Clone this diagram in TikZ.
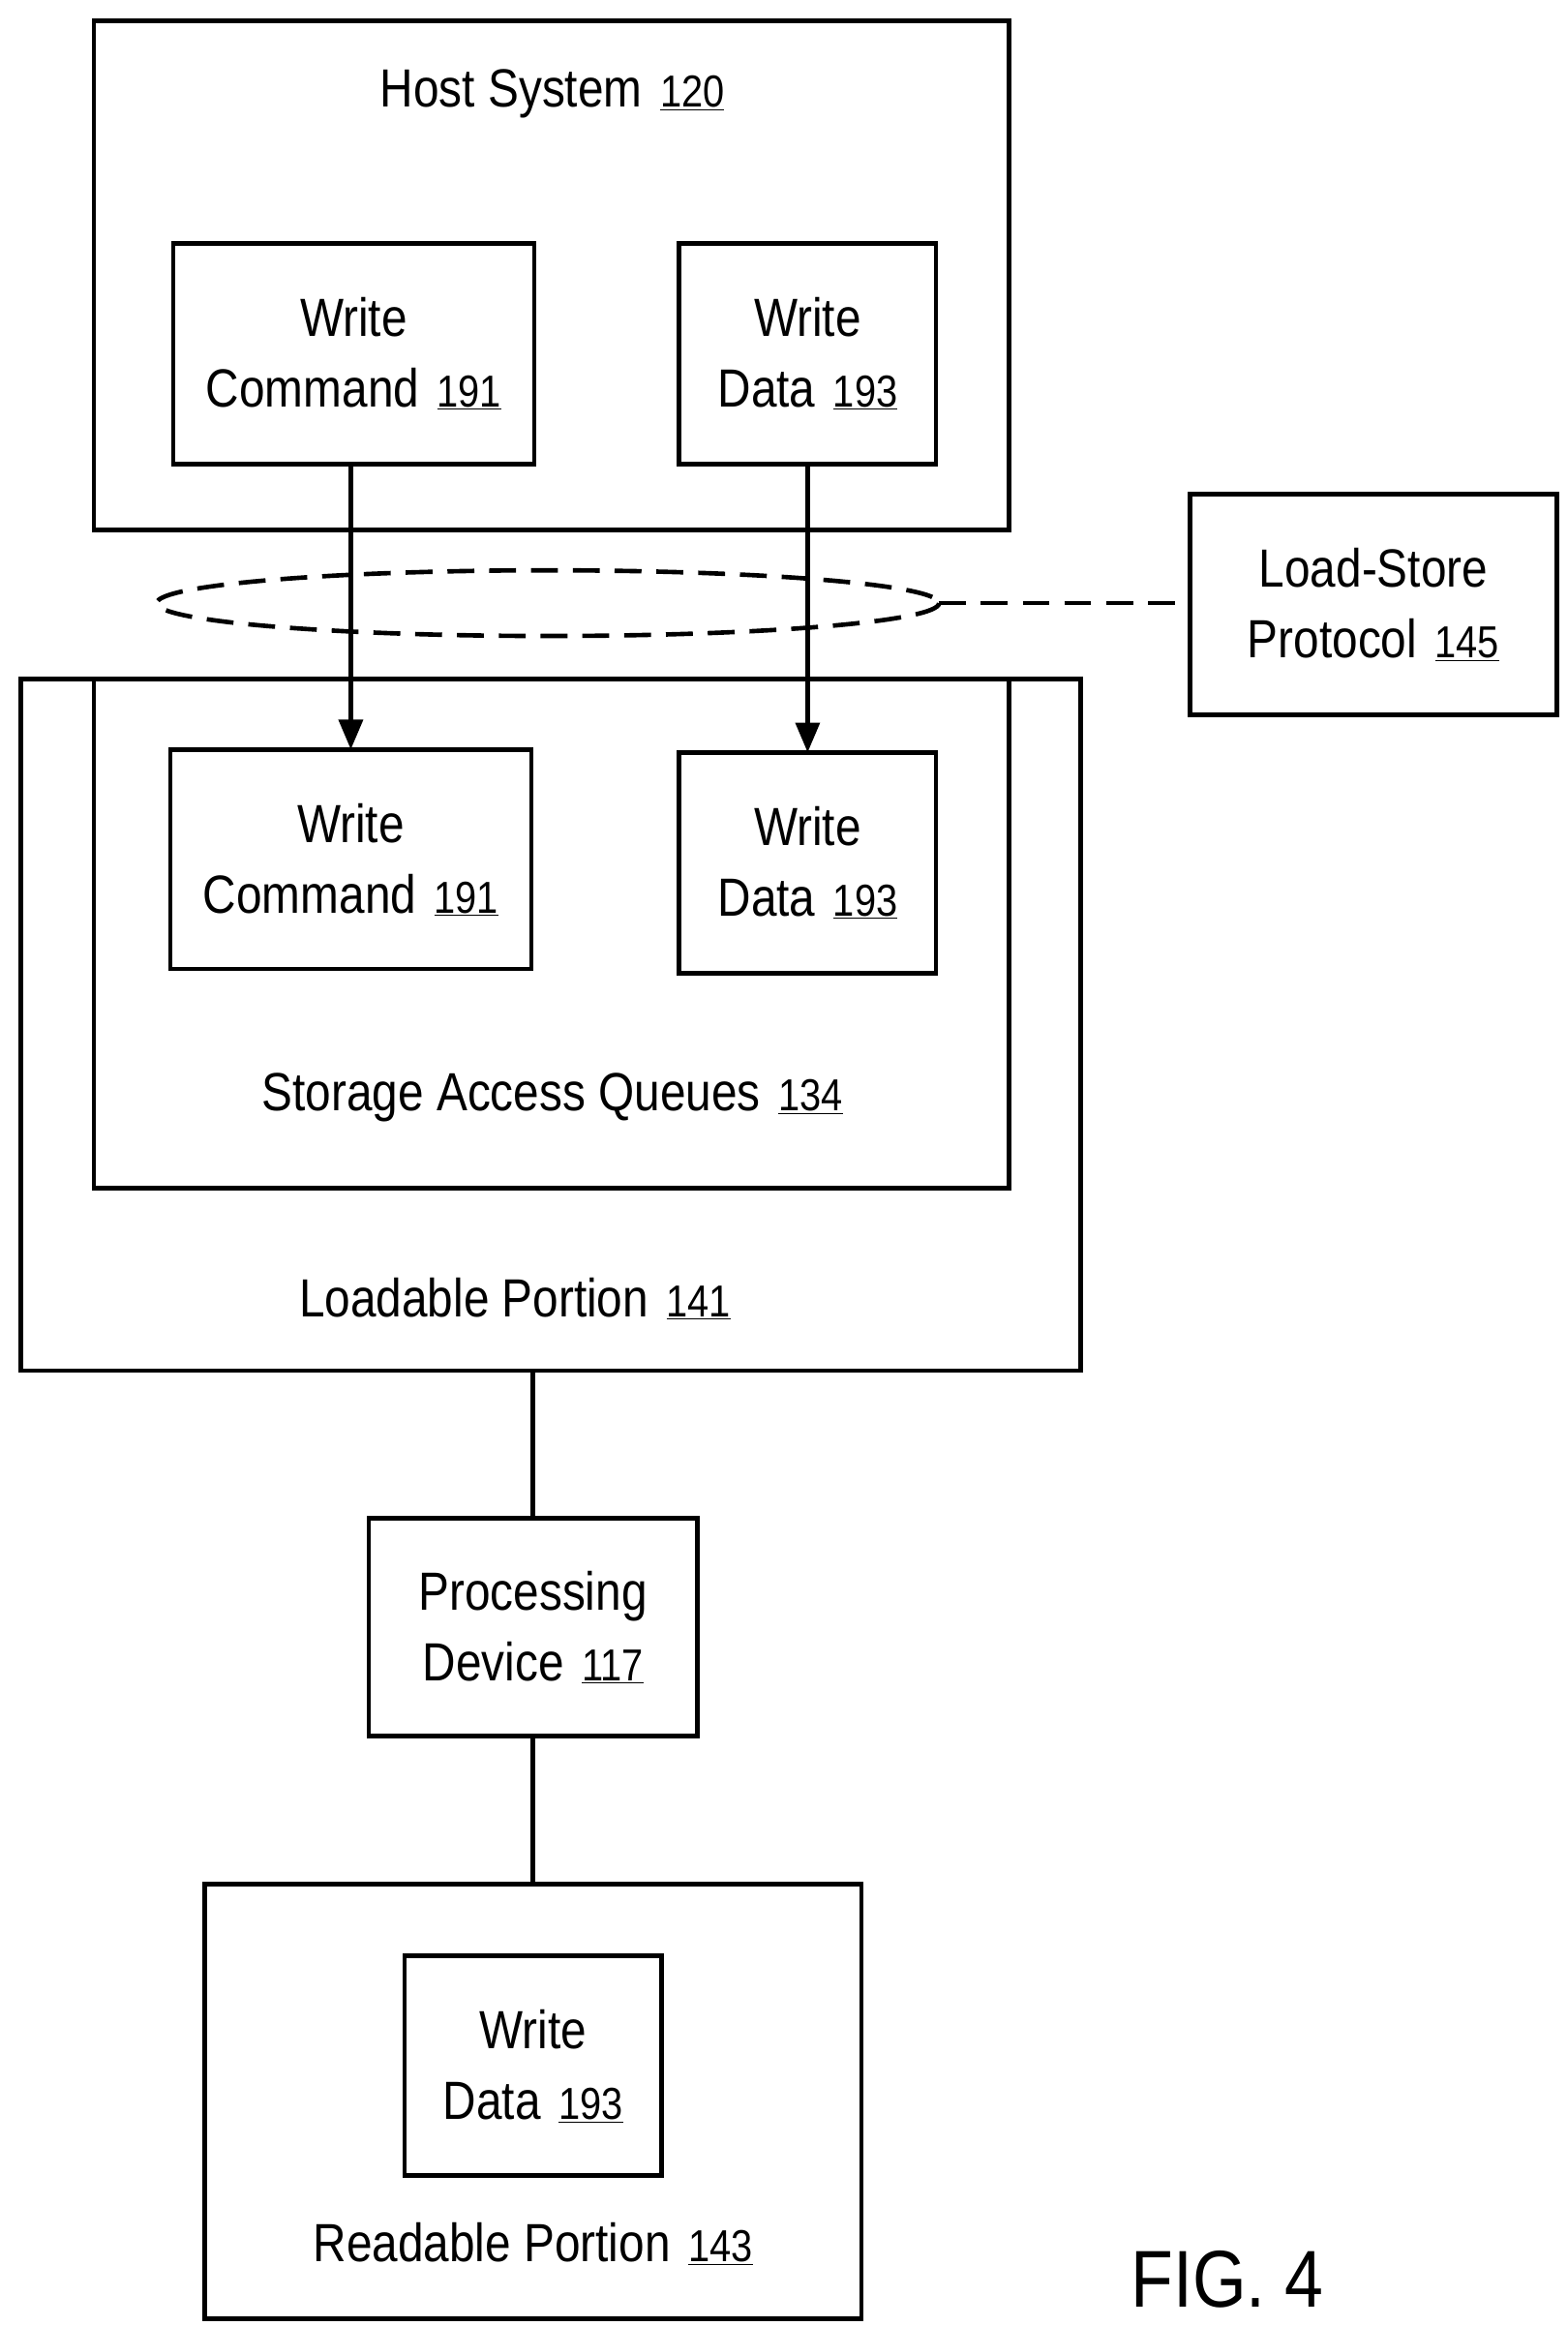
\documentclass[tikz,border=0pt]{standalone}
\usepackage{fontspec}
\setmainfont{Liberation Sans}[FakeStretch=0.86]
\usetikzlibrary{arrows.meta}
\newcommand{\nm}[1]{\,\,{\fontsize{30}{38}\selectfont\underline{#1}}}
\begin{document}
\begin{tikzpicture}[x=1pt,y=-1pt,
  bx/.style={draw,line width=3pt},
  lb/.style={font=\fontsize{36}{47}\selectfont,align=center},
  ln/.style={line width=3pt},
  ar/.style={ln,-{Triangle[length=20pt,width=16pt]}}]
\useasboundingbox (0,0) rectangle (1050,1558);
\draw[bx] (63,14) rectangle (676,355);
\node[lb] (host) at (370,63) {Host System\nm{120}};
\draw[bx] (116,163) rectangle (358,311); \node[lb] (wc1) at (237,237) {Write\\Command\nm{191}};
\draw[bx] (455,163) rectangle (627,311); \node[lb] (wd1) at (541,237) {Write\\Data\nm{193}};
\draw[bx] (797,331) rectangle (1043,479); \node[lb] (ls) at (920,405) {Load-Store\\Protocol\nm{145}};
\draw[bx] (14,455) rectangle (724,918);
\draw[bx] (63,455) rectangle (676,796);
\draw[bx] (114,502) rectangle (356,649); \node[lb] (wc2) at (235,576) {Write\\Command\nm{191}};
\draw[bx] (455,504) rectangle (627,652); \node[lb] (wd2) at (541,578) {Write\\Data\nm{193}};
\node[lb] (q) at (370,735) {Storage Access Queues\nm{134}};
\node[lb] (lp) at (345,870) {Loadable Portion\nm{141}};
\draw[ln,dash pattern=on 18pt off 10pt] (367,404) ellipse [x radius=262,y radius=22];
\coordinate (e) at (629,404); \coordinate (lsw) at (797,404);
\draw[ln,dash pattern=on 18pt off 10pt] (e) -- (lsw);
\coordinate (a1) at (235,311); \coordinate (a2) at (235,502);
\coordinate (b1) at (541,311); \coordinate (b2) at (541,504);
\draw[ar] (a1) -- (a2); \draw[ar] (b1) -- (b2);
\draw[bx] (247,1017) rectangle (467,1163); \node[lb] (pd) at (357,1090) {Processing\\Device\nm{117}};
\draw[ln] (357,918) -- (357,1017); \draw[ln] (357,1163) -- (357,1262);
\draw[bx] (137,1262) rectangle (577,1553);
\draw[bx] (271,1310) rectangle (443,1457); \node[lb] (wd3) at (357,1384) {Write\\Data\nm{193}};
\node[lb] (rp) at (357,1503) {Readable Portion\nm{143}};
\node[font=\fontsize{54}{60}\selectfont] (fig) at (822,1527) {FIG. 4};
\end{tikzpicture}
\end{document}
